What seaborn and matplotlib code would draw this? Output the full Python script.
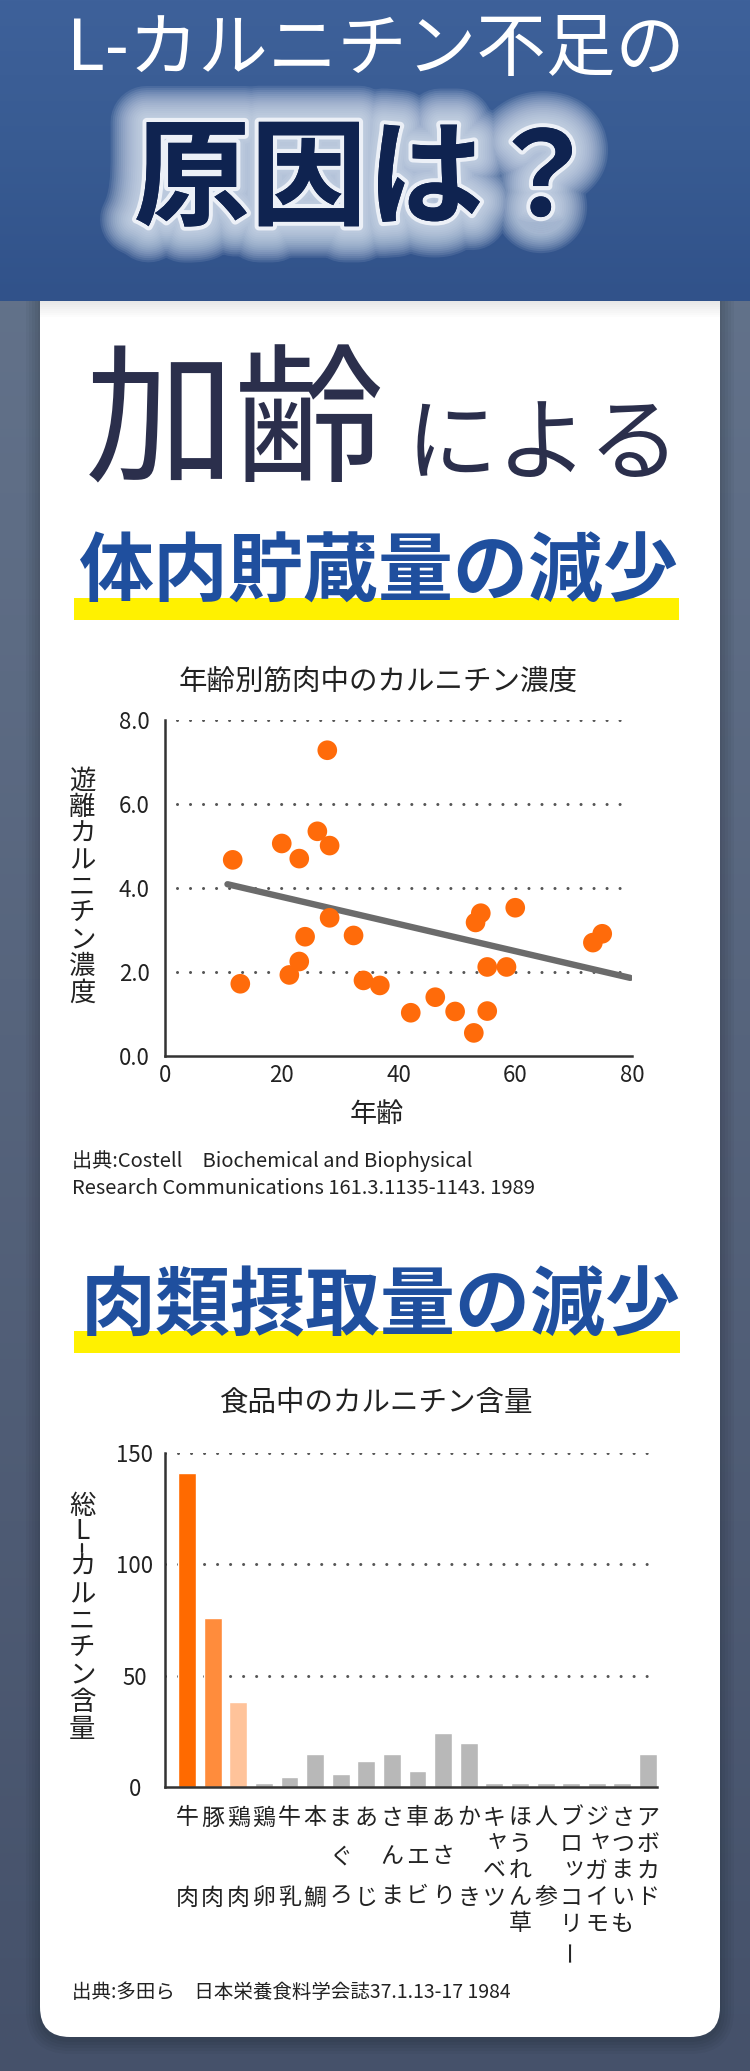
import matplotlib

matplotlib.use("Agg")
import matplotlib.patheffects as pe
import matplotlib.pyplot as plt
import matplotlib.transforms as mtransforms
import numpy as np
import seaborn as sns
from matplotlib.colors import LinearSegmentedColormap
from matplotlib.patches import FancyBboxPatch, Rectangle

W, H = 750, 2071

# --- scatter: carnitine concentration in muscle by age ---
AGES = [11.6, 12.9, 20.0, 21.3, 23.0, 23.0, 24.0, 26.1, 27.8, 28.2, 28.2, 32.3, 34.0,
        36.8, 42.1, 46.3, 49.7, 52.9, 53.2, 54.1, 55.2, 55.2, 58.5, 60.0, 73.3, 74.9]
CONC = [4.67, 1.72, 5.06, 1.93, 4.70, 2.25, 2.84, 5.35, 7.28, 5.01, 3.29, 2.87, 1.80,
        1.68, 1.03, 1.40, 1.06, 0.55, 3.18, 3.40, 2.12, 1.07, 2.12, 3.53, 2.70, 2.91]
TREND_AGE = [10.7, 79.7]
TREND_CONC = [4.09, 1.86]
SCATTER_XTICKS = [0, 20, 40, 60, 80]
SCATTER_YTICKS = [0.0, 2.0, 4.0, 6.0, 8.0]

# --- bars: carnitine content in foods ---
FOODS = ["牛肉", "豚肉", "鶏肉", "鶏卵", "牛乳", "本鯛", "まぐろ", "あじ", "さんま", "車エビ",
         "あさり", "かき", "キャベツ", "ほうれん草", "人参", "ブロッコリー", "ジャガイモ",
         "さつまいも", "アボカド"]
CARNITINE = [141, 76, 38, 2, 4.6, 15, 6, 11.8, 15, 7.3, 24.4, 19.9, 2, 2, 2,
             2, 2, 2, 15]
BAR_COLORS = ["#ff6a00", "#ff8c3c", "#ffc39a"] + ["#b8b8b8"] * 16
BAR_YTICKS = [0, 50, 100, 150]

TEXT = "#222222"
AXIS = "#333333"
DOTS = dict(color="#555555", lw=2.2, ls=(0, (0.01, 4.25)), dash_capstyle="round", zorder=1)

sns.set_theme(style="white")
plt.rcParams["font.family"] = ["Noto Sans CJK JP", "DejaVu Sans"]

fig = plt.figure(figsize=(W / 100, H / 100), dpi=100)
bg = fig.add_axes([0, 0, 1, 1])
bg.set_xlim(0, W)
bg.set_ylim(H, 0)
bg.axis("off")

# page background
grad = np.linspace(0, 1, 256).reshape(-1, 1)
page_cmap = LinearSegmentedColormap.from_list("page", ["#67778f", "#45516a"])
bg.imshow(grad, cmap=page_cmap, extent=[0, W, H, 0], aspect="auto", zorder=0)

# card with soft shadow
for i in range(5):
    d = 2 + 3 * i
    bg.add_patch(FancyBboxPatch((40 - d, 260), 680 + 2 * d, 1777 + d + 3,
                                boxstyle=f"round,pad=0,rounding_size={30 + d}",
                                fc="black", ec="none", alpha=0.035, zorder=1))
bg.add_patch(FancyBboxPatch((40, 260), 680, 1777, boxstyle="round,pad=0,rounding_size=30",
                            fc="white", ec="none", zorder=2))

# header band
head_cmap = LinearSegmentedColormap.from_list("head", ["#3e619a", "#385b92", "#31528a"])
bg.imshow(grad, cmap=head_cmap, extent=[0, W, 301, 0], aspect="auto", zorder=3)
for i in range(8):
    bg.add_patch(Rectangle((40, 301 + i * 2), 680, 2, fc="black", ec="none",
                           alpha=0.09 * (1 - i / 8), zorder=3))

bg.text(376, 50, "L-カルニチン不足の", color="white", fontsize=50, fontweight="normal",
        ha="center", va="center", zorder=5)
# soft glow: many thin translucent strokes stacked from wide to narrow
glow = [pe.withStroke(linewidth=lw, foreground="#dce5f2", alpha=0.11)
        for lw in range(52, 4, -3)]
glow += [pe.withStroke(linewidth=6, foreground="#f2f5fa", alpha=0.9), pe.Normal()]
bg.text(367, 182, "原因は？", color="#0f2350", fontsize=84, fontweight="bold",
        ha="center", va="center", path_effects=glow, zorder=5)

# section headings
bg.text(235, 428, "加齢", color="#2b2f4c", fontsize=108, fontweight="normal",
        ha="center", va="center", zorder=5)
bg.text(543, 447, "による", color="#2b2f4c", fontsize=66, fontweight="normal",
        ha="center", va="center", zorder=5)

bg.add_patch(Rectangle((74, 598), 605, 22, fc="#fff100", ec="none", zorder=4))
bg.text(378, 574, "体内貯蔵量の減少", color="#1f4f9e", fontsize=54, fontweight="bold",
        ha="center", va="center", zorder=5)

bg.add_patch(Rectangle((74, 1331), 606, 22, fc="#fff100", ec="none", zorder=4))
bg.text(381, 1307, "肉類摂取量の減少", color="#1f4f9e", fontsize=54, fontweight="bold",
        ha="center", va="center", zorder=5)


def px_axes(left, top, right, bottom):
    return fig.add_axes([left / W, 1 - bottom / H, (right - left) / W, (bottom - top) / H])


def stacked_label(text, x, y0, full, size):
    """Vertical (tategaki) label, one glyph per row."""
    half = {"L": full * 0.4, "-": full * 0.22}
    y = y0
    prev = None
    for ch in text:
        h = half.get(ch, full / 2)
        if prev is not None:
            y += prev + h
        if ch == "-":
            # hyphen turns into a short upright stroke in vertical writing
            bg.plot([x, x], [y - 4, y + 4], color=TEXT, lw=1.6, zorder=6)
        else:
            bg.text(x, y, ch, fontsize=size, color=TEXT, ha="center", va="center",
                    zorder=6)
        prev = h


def style_axes(ax):
    ax.set_facecolor("none")
    for side in ["top", "right"]:
        ax.spines[side].set_visible(False)
    for side in ["left", "bottom"]:
        ax.spines[side].set_color(AXIS)
        ax.spines[side].set_linewidth(1.8)
    ax.grid(False)


# ---------- scatter chart ----------
ax1 = px_axes(165, 720, 632, 1056)
style_axes(ax1)
for yv in SCATTER_YTICKS[1:]:
    ax1.axhline(yv, xmin=0.025, **DOTS)
sns.lineplot(x=TREND_AGE, y=TREND_CONC, ax=ax1, color="#6b6b6b", lw=4.6, zorder=2)
sns.scatterplot(x=AGES, y=CONC, ax=ax1, s=200, color="#ff6b0a", edgecolor="none",
                linewidth=0, zorder=3)
ax1.set_xlim(0, 80)
ax1.set_ylim(0, 8)
ax1.set_xticks(SCATTER_XTICKS, labels=[str(v) for v in SCATTER_XTICKS])
ax1.set_yticks(SCATTER_YTICKS, labels=[f"{v:.1f}" for v in SCATTER_YTICKS])
ax1.tick_params(axis="y", length=0, pad=11, labelsize=16, labelcolor=TEXT)
ax1.tick_params(axis="x", length=0, pad=6, labelsize=16, labelcolor=TEXT)
ax1.set_xlabel("")
ax1.set_ylabel("")

bg.text(378, 682, "年齢別筋肉中のカルニチン濃度", fontsize=20.5, color=TEXT,
        ha="center", va="center", zorder=6)
bg.text(377, 1114, "年齢", fontsize=19.5, color=TEXT, ha="center", va="center", zorder=6)
stacked_label("遊離カルニチン濃度", 82, 781, 26.5, 19)
bg.text(72, 1161, "出典:Costell　Biochemical and Biophysical", fontsize=14.5, color=TEXT,
        ha="left", va="center", zorder=6)
bg.text(72, 1189, "Research Communications 161.3.1135-1143. 1989", fontsize=14.5,
        color=TEXT, ha="left", va="center", zorder=6)

# ---------- bar chart ----------
ax2 = px_axes(165, 1453, 657, 1787)
style_axes(ax2)
for yv in BAR_YTICKS[1:]:
    ax2.axhline(yv, **DOTS)
sns.barplot(x=FOODS, y=CARNITINE, hue=FOODS, palette=BAR_COLORS, legend=False,
            saturation=1, width=0.7, ax=ax2, zorder=2)
ax2.set_xlim(-0.86, 18.35)
ax2.set_ylim(0, 150)
ax2.set_xticks([])
ax2.set_yticks(BAR_YTICKS, labels=[str(v) for v in BAR_YTICKS])
ax2.tick_params(axis="y", length=0, pad=21.6, labelsize=16, labelcolor=TEXT)
for lab in ax2.get_yticklabels():
    lab.set_ha("center")
ax2.set_xlabel("")
ax2.set_ylabel("")

# food names written vertically under each bar
trans = mtransforms.blended_transform_factory(ax2.transData, bg.transData)
small_kana = "ャュョッァィゥェォ"
for i, name in enumerate(FOODS):
    n = len(name)
    if n == 2:
        offsets = [0, 80]
    elif n == 3:
        offsets = [0, 39, 78]
    else:
        offsets = [k * 26.5 for k in range(n)]
    for ch, off in zip(name, offsets):
        dx = 0.12 if ch in small_kana else 0
        dy = -4 if ch in small_kana else 0
        ax2.text(i + dx, 1818 + off + dy, ch, transform=trans, fontsize=16.5,
                 color=TEXT, ha="center", va="center", clip_on=False,
                 rotation=90 if ch == "ー" else 0)

bg.text(377, 1403, "食品中のカルニチン含量", fontsize=20.5, color=TEXT,
        ha="center", va="center", zorder=6)
stacked_label("総L-カルニチン含量", 82, 1507, 27, 19)
bg.text(72, 1993, "出典:多田ら　日本栄養食料学会誌37.1.13-17 1984", fontsize=14,
        color=TEXT, ha="left", va="center", zorder=6)

fig.savefig("out.png", dpi=100)
plt.close(fig)
